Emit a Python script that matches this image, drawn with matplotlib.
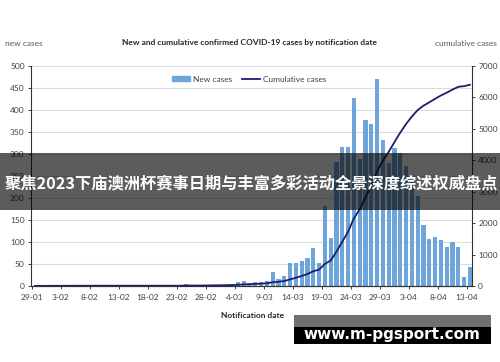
import matplotlib
matplotlib.use("Agg")
import matplotlib.pyplot as plt
import numpy as np
from matplotlib.lines import Line2D
from matplotlib.patches import Patch, Rectangle

# daily new cases, 29-01 .. 13-04
new_cases = [1, 3, 1, 1, 0, 1, 0, 1, 0, 0,
             0, 1, 0, 0, 0, 0, 0, 0, 0, 0,
             0, 0, 0, 0, 0, 0, 5, 1, 0, 1,
             2, 3, 2, 3, 5, 8, 11, 6, 10, 9,
             12, 32, 16, 23, 52, 52, 57, 64, 87, 52,
             182, 109, 282, 316, 315, 428, 288, 377, 368, 470,
             332, 279, 313, 303, 273, 237, 205, 139, 107, 112,
             105, 89, 99, 88, 21, 44]
cumulative = [1, 4, 5, 6, 6, 7, 7, 8, 8, 8,
              8, 9, 9, 9, 9, 9, 9, 9, 9, 9,
              9, 9, 9, 9, 9, 9, 14, 15, 15, 16,
              18, 21, 23, 26, 31, 39, 50, 56, 66, 75,
              87, 119, 135, 158, 210, 262, 319, 383, 470, 522,
              704, 813, 1095, 1411, 1726, 2154, 2442, 2819, 3187, 3657,
              3989, 4268, 4581, 4884, 5157, 5394, 5599, 5738, 5845, 5957,
              6062, 6151, 6250, 6338, 6359, 6403]
tick_labels = ["29-01", "3-02", "8-02", "13-02", "18-02", "23-02", "28-02", "4-03",
               "9-03", "14-03", "19-03", "24-03", "29-03", "3-04", "8-04", "13-04"]

BAR_COLOR = "#6ea5da"
LINE_COLOR = "#1f1c6e"
TEXT = "#404040"
W, H = 500, 362

plt.rcParams["font.family"] = ["Lato", "DejaVu Sans"]


def fx(px):
    return px / W


def fy(py):
    return 1 - py / H


fig = plt.figure(figsize=(5, 3.62), dpi=100)
ax = fig.add_axes([fx(31), fy(286), fx(472) - fx(31), fy(66) - fy(286)])
ax2 = ax.twinx()

days = np.arange(len(new_cases))
ax.bar(days + 0.5, new_cases, width=0.72, color=BAR_COLOR, zorder=2)
ax2.plot(days + 0.5, cumulative, color=LINE_COLOR, lw=1.3, zorder=3)

ax.set_xlim(-0.17, 75.86)
ax.set_ylim(0, 500)
ax2.set_ylim(0, 7000)
ax.set_yticks(range(0, 501, 50))
ax2.set_yticks(range(0, 7001, 1000))
ax.set_xticks(range(0, 76, 5))
ax.set_xticklabels(tick_labels)
ax.yaxis.grid(True, color="#dcdcdc", lw=0.8, zorder=0)
ax.set_axisbelow(True)

for a in (ax, ax2):
    a.spines["top"].set_visible(False)
    for s in ("left", "right", "bottom"):
        a.spines[s].set_color("#333333")
        a.spines[s].set_linewidth(0.8)
    a.tick_params(labelsize=6, colors=TEXT, length=2.5, width=0.7, pad=2)
ax.spines["right"].set_visible(False)
ax2.spines["left"].set_visible(False)
ax.tick_params(axis="x", pad=3)

fig.text(fx(5), fy(43), "new cases", fontsize=6, color="#595959", va="center", ha="left")
fig.text(fx(497), fy(43), "cumulative cases", fontsize=6, color="#595959", va="center", ha="right")
fig.text(fx(250), fy(43), "New and cumulative confirmed COVID-19 cases by notification date",
         fontsize=6, fontweight="bold", color="#262626", va="center", ha="center")
fig.text(fx(253), fy(315), "Notification date", fontsize=6, fontweight="bold",
         color="#262626", va="center", ha="center")

handles = [Patch(color=BAR_COLOR), Line2D([], [], color=LINE_COLOR, lw=1.3)]
fig.legend(handles, ["New cases", "Cumulative cases"], loc="center",
           bbox_to_anchor=(fx(249), fy(79)), ncol=2, frameon=False, fontsize=6,
           handlelength=2.2, handleheight=0.6, columnspacing=1.2, handletextpad=0.3,
           labelcolor=TEXT)

# overlay banner
fig.add_artist(Rectangle((0, fy(210)), 1, fy(153) - fy(210), transform=fig.transFigure,
                         facecolor="black", alpha=0.64, edgecolor="none", zorder=5))
fig.text(fx(251), fy(183), "聚焦2023下庙澳洲杯赛事日期与丰富多彩活动全景深度综述权威盘点",
         fontsize=11.7, fontweight="bold", color="white", va="center", ha="center",
         family=["Noto Sans CJK SC", "DejaVu Sans"], zorder=6)

# watermark box
fig.add_artist(Rectangle((fx(294), fy(327)), fx(491) - fx(294), fy(315) - fy(327),
                         transform=fig.transFigure, facecolor="#707070", edgecolor="none", zorder=5))
fig.add_artist(Rectangle((fx(294), fy(344)), fx(491) - fx(294), fy(327) - fy(344),
                         transform=fig.transFigure, facecolor="black", edgecolor="none", zorder=5))
fig.text(fx(392), fy(335), "www.m-pgsport.com", fontsize=11, fontweight="bold", color="white",
         va="center", ha="center", family=["DejaVu Sans"], zorder=6)

fig.savefig("out.png", dpi=100)
